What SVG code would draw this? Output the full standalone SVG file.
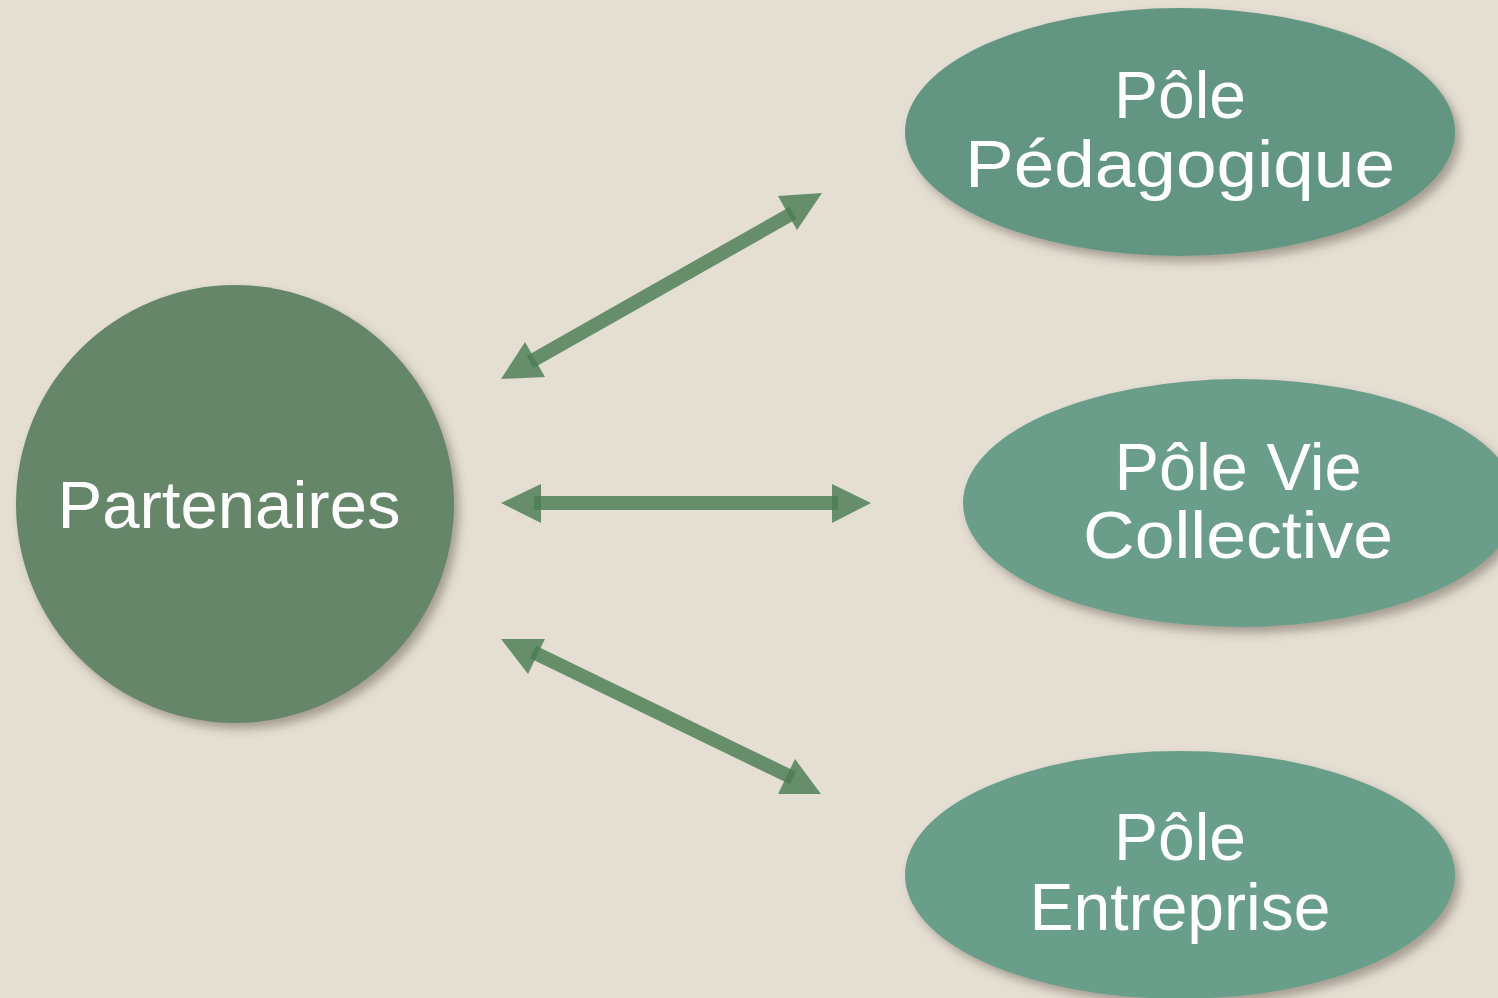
<svg xmlns="http://www.w3.org/2000/svg" width="1498" height="998" viewBox="0 0 1498 998">
<defs>
<filter id="sh" x="-10%" y="-10%" width="125%" height="130%">
<feDropShadow dx="5" dy="6" stdDeviation="5" flood-color="#5a5040" flood-opacity="0.45"/>
</filter>
<style>
.lbl{font-family:"Liberation Sans","DejaVu Sans",sans-serif;fill:#ffffff;text-anchor:middle;font-size:66px}
.ln{stroke:#4a7d54;stroke-width:14;opacity:0.82;fill:none}
.hd{fill:#4a7d54;opacity:0.82}
</style>
</defs>
<rect width="1498" height="998" fill="#E4DED3"/>
<g id="partenaires">
<circle cx="235" cy="504" r="219" fill="#66866A" filter="url(#sh)"/>
<text class="lbl" x="229" y="528" textLength="343" lengthAdjust="spacingAndGlyphs">Partenaires</text>
</g>
<g id="pole-pedagogique">
<ellipse cx="1180" cy="132" rx="275" ry="124" fill="#629682" filter="url(#sh)"/>
<text class="lbl" x="1180" y="118">Pôle</text>
<text class="lbl" x="1180" y="187" textLength="430" lengthAdjust="spacingAndGlyphs">Pédagogique</text>
</g>
<g id="pole-vie-collective">
<ellipse cx="1240" cy="503" rx="277" ry="124" fill="#6A9E8A" filter="url(#sh)"/>
<text class="lbl" x="1238" y="490" textLength="247" lengthAdjust="spacingAndGlyphs">Pôle Vie</text>
<text class="lbl" x="1238" y="558" textLength="310" lengthAdjust="spacingAndGlyphs">Collective</text>
</g>
<g id="pole-entreprise">
<ellipse cx="1180" cy="875" rx="275" ry="124" fill="#699E8A" filter="url(#sh)"/>
<text class="lbl" x="1180" y="860">Pôle</text>
<text class="lbl" x="1180" y="930">Entreprise</text>
</g>
<g id="connectors">
<line class="ln" x1="530" y1="362" x2="793" y2="213"/>
<polygon class="hd" points="822,193 778,196 797,230"/>
<polygon class="hd" points="501,379 525,342 545,377"/>
<line class="ln" x1="534" y1="503" x2="838" y2="503"/>
<polygon class="hd" points="501,503 541,484 541,523"/>
<polygon class="hd" points="871,503 832,484 832,523"/>
<line class="ln" x1="533" y1="652" x2="793" y2="778"/>
<polygon class="hd" points="501,639 545,639 528,674"/>
<polygon class="hd" points="821,794 778,794 795,759"/>
</g>
</svg>
